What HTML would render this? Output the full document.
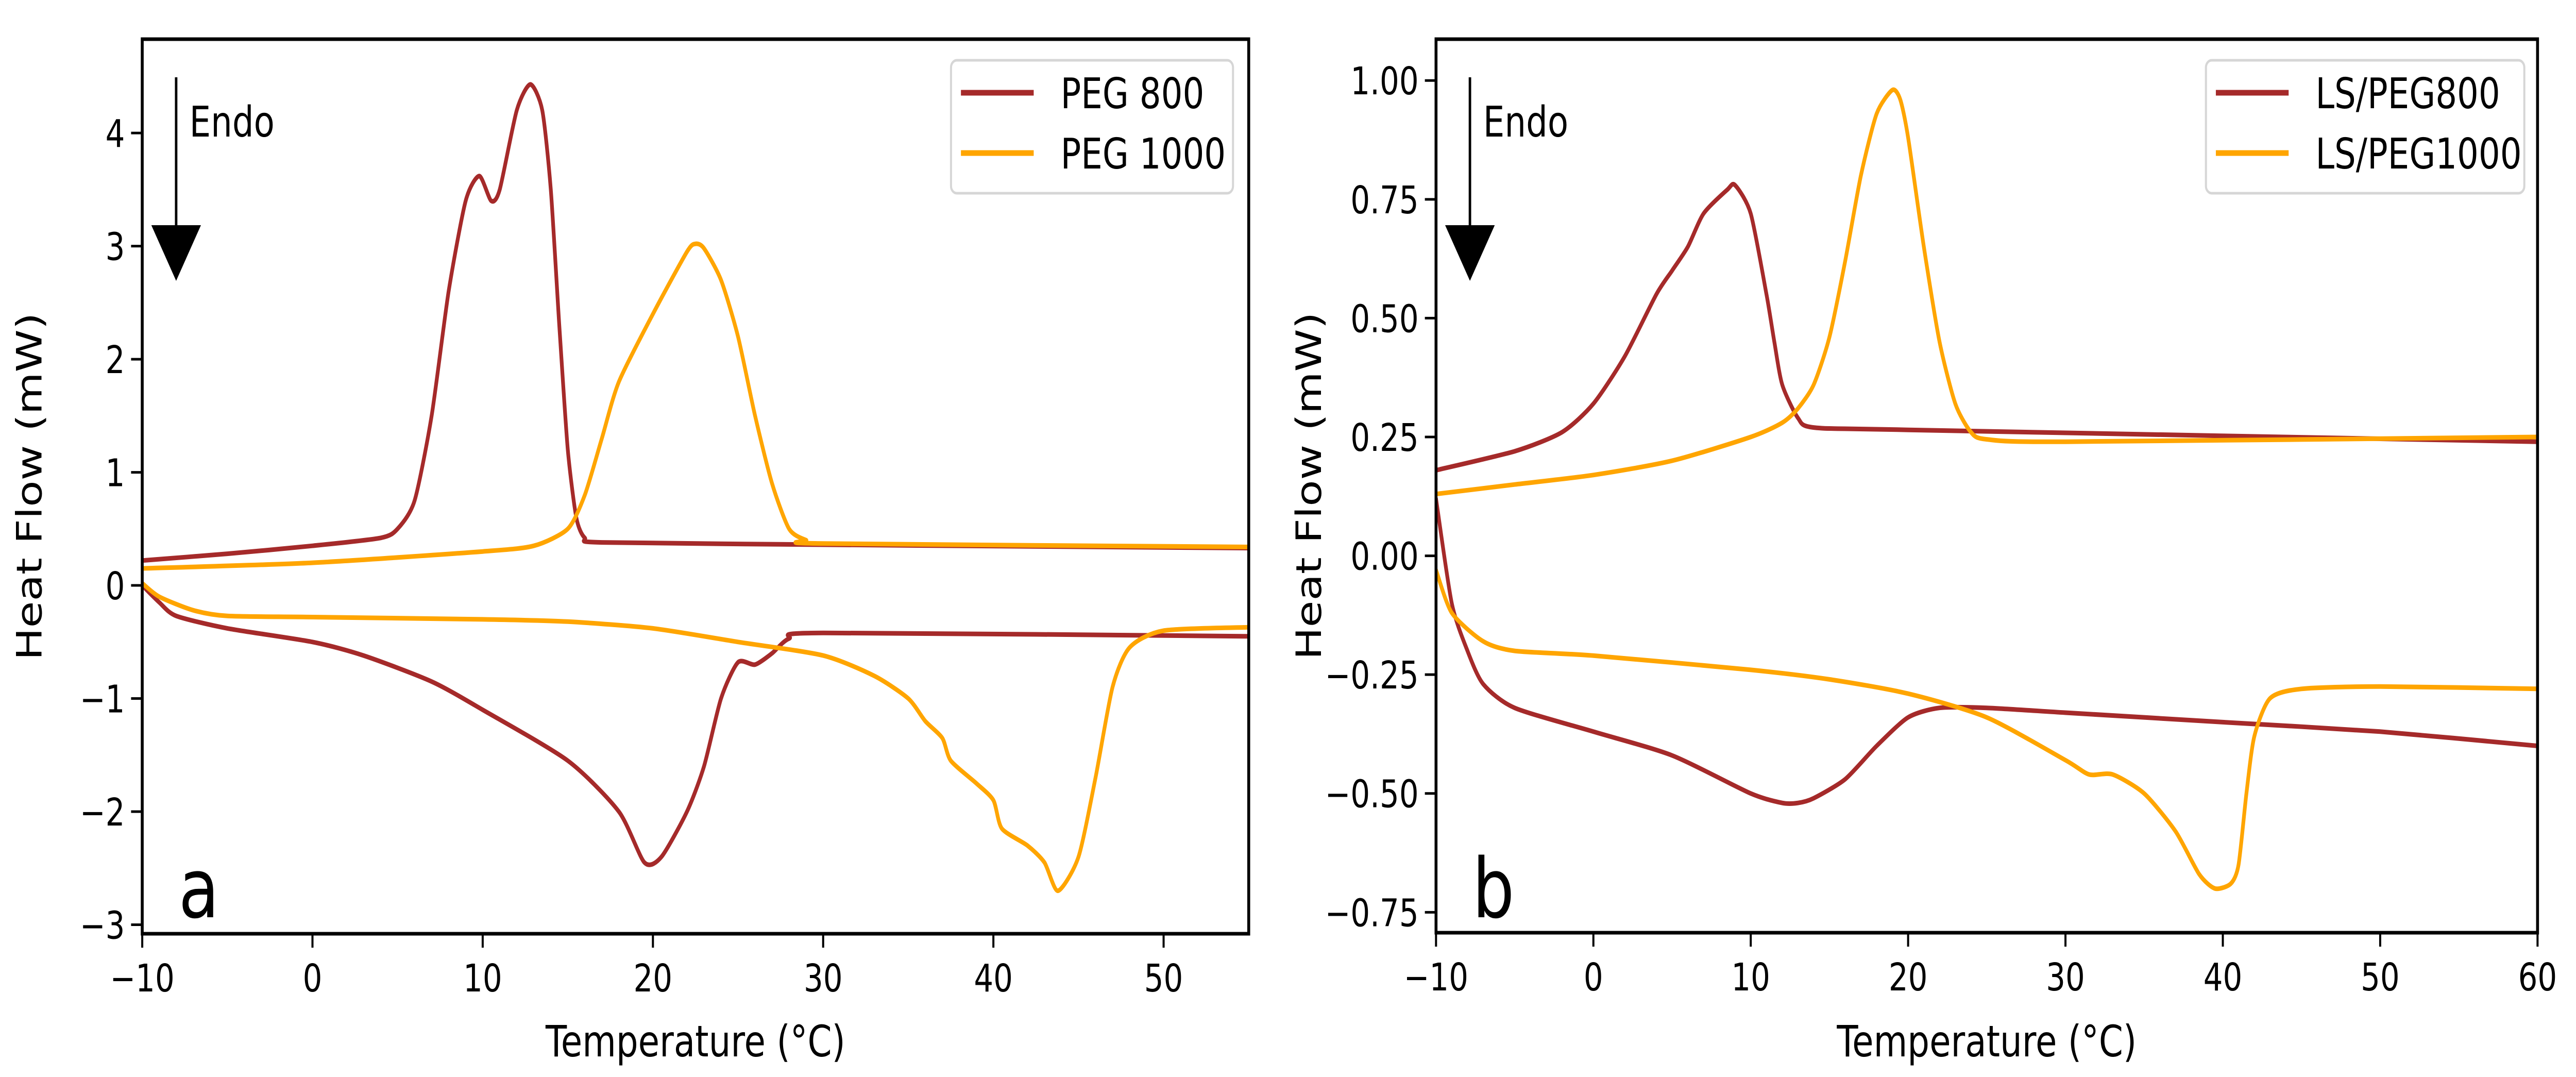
<!DOCTYPE html>
<html><head><meta charset="utf-8"><style>
html,body{margin:0;padding:0;background:#fff;width:100vw;height:100vh;overflow:hidden;}
svg{display:block;overflow:hidden;width:100vw;height:100vh;}
text{font-family:"DejaVu Sans","Liberation Sans",sans-serif;fill:#000;}
</style></head><body>
<svg id="fig" viewBox="0 0 6230 2090" preserveAspectRatio="none" xmlns="http://www.w3.org/2000/svg"></svg>
<script>
// ---------- Panel a data ----------
const aPeg800UpT = [-10,-5,0,4,5,6,7,8,9,9.8,10.5,11,12,12.8,13.5,14,14.5,15,15.5,16,17,30,55];
const aPeg800UpV = [0.22,0.28,0.35,0.42,0.5,0.75,1.5,2.6,3.4,3.62,3.4,3.5,4.2,4.43,4.2,3.5,2.3,1.2,0.6,0.42,0.38,0.36,0.33];
const aPeg800LoT = [-10,-9,-8,-5,0,3,7,10,15,18,19.5,20.5,22,23,24,25,26,27,28,30,55];
const aPeg800LoV = [0,-0.15,-0.27,-0.38,-0.5,-0.62,-0.85,-1.1,-1.55,-2.0,-2.45,-2.4,-2.0,-1.6,-1.0,-0.68,-0.7,-0.6,-0.47,-0.42,-0.45];
const aPeg1000UpT = [-10,0,10,13,15,16,17,18,20,22,22.5,23,24,25,26,27,28,29,30,55];
const aPeg1000UpV = [0.15,0.2,0.3,0.35,0.5,0.8,1.3,1.8,2.4,2.95,3.02,2.98,2.7,2.2,1.5,0.9,0.5,0.4,0.37,0.34];
const aPeg1000LoT = [-10,-9,-7,-5,0,10,15,20,25,30,33,35,36,37,37.5,39,40,40.5,42,43,43.8,45,46,47,48,50,55];
const aPeg1000LoV = [0.02,-0.1,-0.22,-0.27,-0.28,-0.3,-0.32,-0.38,-0.5,-0.62,-0.8,-1.0,-1.2,-1.35,-1.55,-1.75,-1.9,-2.15,-2.3,-2.45,-2.7,-2.4,-1.7,-0.9,-0.55,-0.4,-0.37];
const aXTicks = [-10,0,10,20,30,40,50];
const aYTicks = [-3,-2,-1,0,1,2,3,4];
// ---------- Panel b data ----------
const bPeg800UpT = [-10,-5,-2,0,2,4,5,6,7,8.5,9,10,11,11.5,12,13,14,20,60];
const bPeg800UpV = [0.18,0.22,0.26,0.32,0.42,0.55,0.6,0.65,0.72,0.77,0.78,0.72,0.55,0.45,0.36,0.29,0.27,0.265,0.24];
const bPeg1000UpT = [-10,-5,0,5,10,12,13,14,15,16,17,18,19,19.5,20,21,22,23,24,25,30,60];
const bPeg1000UpV = [0.13,0.15,0.17,0.2,0.25,0.28,0.31,0.36,0.46,0.62,0.8,0.93,0.98,0.96,0.88,0.65,0.45,0.32,0.26,0.245,0.24,0.25];
const bPeg800LoT = [-10,-9,-8,-7,-5,0,5,10,12,13,14,16,18,20,22,25,30,40,50,60];
const bPeg800LoV = [0.12,-0.1,-0.2,-0.27,-0.32,-0.37,-0.42,-0.5,-0.52,-0.52,-0.51,-0.47,-0.4,-0.34,-0.32,-0.32,-0.33,-0.35,-0.37,-0.4];
const bPeg1000LoT = [-10,-9,-7,-5,0,10,15,20,25,30,31.5,33,35,37,38.5,39.5,40.5,41,41.5,42,43,45,50,60];
const bPeg1000LoV = [-0.03,-0.12,-0.18,-0.2,-0.21,-0.24,-0.26,-0.29,-0.34,-0.43,-0.46,-0.46,-0.5,-0.58,-0.67,-0.7,-0.69,-0.65,-0.5,-0.38,-0.3,-0.28,-0.275,-0.28];
const bXTicks = [-10,0,10,20,30,40,50,60];
const bYTicks = [-0.75,-0.5,-0.25,0,0.25,0.5,0.75,1.0];

const NS = "http://www.w3.org/2000/svg";
const svg = document.getElementById('fig');
function el(tag, attrs, parent, txt){
  const e = document.createElementNS(NS, tag);
  for (const k in attrs) e.setAttribute(k, attrs[k]);
  if (txt !== undefined) e.textContent = txt;
  (parent||svg).appendChild(e);
  return e;
}
function fmt(v, dec){ const s = Math.abs(v).toFixed(dec); return (v<0?'\u2212':'')+s; }

function smoothPath(pts){
  let d = 'M'+pts[0][0].toFixed(1)+','+pts[0][1].toFixed(1);
  for (let i=0;i<pts.length-1;i++){
    const p0 = pts[i-1]||pts[i], p1=pts[i], p2=pts[i+1], p3=pts[i+2]||p2;
    const t=0.12;
    const c1x=p1[0]+(p2[0]-p0[0])*t, c1y=p1[1]+(p2[1]-p0[1])*t;
    const c2x=p2[0]-(p3[0]-p1[0])*t, c2y=p2[1]-(p3[1]-p1[1])*t;
    d+=' C'+c1x.toFixed(1)+','+c1y.toFixed(1)+' '+c2x.toFixed(1)+','+c2y.toFixed(1)+' '+p2[0].toFixed(1)+','+p2[1].toFixed(1);
  }
  return d;
}

function panel(cfg){
  const g = el('g', {});
  
  
  const xs = v => cfg.L + (v-cfg.xmin)/(cfg.xmax-cfg.xmin)*(cfg.R-cfg.L);
  const ys = v => cfg.B - (v-cfg.ymin)/(cfg.ymax-cfg.ymin)*(cfg.B-cfg.T);
  const clip = el('clipPath', {id: cfg.name+'-clip'}, g);
  el('rect', {x:cfg.L, y:cfg.T, width:cfg.R-cfg.L, height:cfg.B-cfg.T}, clip);
  const lines = el('g', {'clip-path':'url(#'+cfg.name+'-clip)'}, g);
  cfg.series.forEach(s => {
    const pts = s.t.map((t,i)=>[xs(t), ys(s.v[i])]);
    const p = el('path', {d:smoothPath(pts), fill:'none', stroke:s.color, 'stroke-width':9, 'stroke-linejoin':'round', 'stroke-linecap':'round'}, lines);
    
    
  });
  const fr = el('rect', {x:cfg.L, y:cfg.T, width:cfg.R-cfg.L, height:cfg.B-cfg.T, fill:'none', stroke:'#000', 'stroke-width':7}, g);
  
  
  cfg.xticks.forEach(v => {
    const x = xs(v);
    el('line', {x1:x, x2:x, y1:cfg.B, y2:cfg.B+27, stroke:'#000', 'stroke-width':5}, g);
    const t = el('text', {x:x, y:cfg.B+112, 'font-size':74, 'text-anchor':'middle'}, g, fmt(v,0));
    
    
  });
  cfg.yticks.forEach(v => {
    const y = ys(v);
    el('line', {x1:cfg.L-27, x2:cfg.L, y1:y, y2:y, stroke:'#000', 'stroke-width':5}, g);
    const t = el('text', {x:cfg.L-42, y:y+27, 'font-size':74, 'text-anchor':'end'}, g, fmt(v,cfg.ydec));
    
    
  });
  const xl = el('text', {x:(cfg.L+cfg.R)/2, y:2050, 'font-size':84, 'text-anchor':'middle'}, g, 'Temperature (\u00B0C)');
  
  
  const yl = el('text', {x:0, y:0, 'font-size':84, 'text-anchor':'middle', transform:'translate('+cfg.ylx+','+((cfg.T+cfg.B)/2)+') rotate(-90)'}, g, 'Heat Flow (mW)');
  
  
  const ax = cfg.L + 82;
  const ar = el('g', {}, g);
  
  
  el('line', {x1:ax, x2:ax, y1:150, y2:440, stroke:'#000', 'stroke-width':6}, ar);
  el('polygon', {points:(ax-60)+',437 '+(ax+60)+',437 '+ax+',545', fill:'#000'}, ar);
  el('text', {x:ax+32, y:265, 'font-size':82}, ar, 'Endo');
  const pl = el('text', {x:cfg.L+88, y:1780, 'font-size':160}, g, cfg.letter);
  
  
  const lg = el('g', {}, g);
  
  
  el('rect', {x:cfg.legX, y:117, width:cfg.legW, height:258, rx:14, fill:'#fff', stroke:'#d6d6d6', 'stroke-width':5}, lg);
  cfg.series.filter(s=>s.legend).forEach((s,i) => {
    const y = 180 + i*117;
    const en = el('g', {}, lg);
    
    
    el('line', {x1:cfg.legX+24, x2:cfg.legX+200, y1:y, y2:y, stroke:s.color, 'stroke-width':11}, en);
    el('text', {x:cfg.legX+265, y:y+30, 'font-size':82}, en, s.legend);
  });
}

const brown = '#a52a2a', orange = '#ffa500';
panel({name:'panel-a', L:344, R:3020, T:76, B:1812, xmin:-10, xmax:55, ymin:-3.08, ymax:4.83, ydec:0, ylx:100, letter:'a',
  xticks:aXTicks, yticks:aYTicks, legX:2300, legW:682,
  series:[
    {name:'peg800-cooling', t:aPeg800UpT, v:aPeg800UpV, color:brown, legend:'PEG 800'},
    {name:'peg1000-cooling', t:aPeg1000UpT, v:aPeg1000UpV, color:orange, legend:'PEG 1000'},
    {name:'peg800-heating', t:aPeg800LoT, v:aPeg800LoV, color:brown},
    {name:'peg1000-heating', t:aPeg1000LoT, v:aPeg1000LoV, color:orange}
  ]});
panel({name:'panel-b', L:3473, R:6137, T:76, B:1810, xmin:-10, xmax:60, ymin:-0.793, ymax:1.087, ydec:2, ylx:3195, letter:'b',
  xticks:bXTicks, yticks:bYTicks, legX:5335, legW:770,
  series:[
    {name:'ls-peg800-cooling', t:bPeg800UpT, v:bPeg800UpV, color:brown, legend:'LS/PEG800'},
    {name:'ls-peg1000-cooling', t:bPeg1000UpT, v:bPeg1000UpV, color:orange, legend:'LS/PEG1000'},
    {name:'ls-peg800-heating', t:bPeg800LoT, v:bPeg800LoV, color:brown},
    {name:'ls-peg1000-heating', t:bPeg1000LoT, v:bPeg1000LoV, color:orange}
  ]});
</script>
</body></html>
